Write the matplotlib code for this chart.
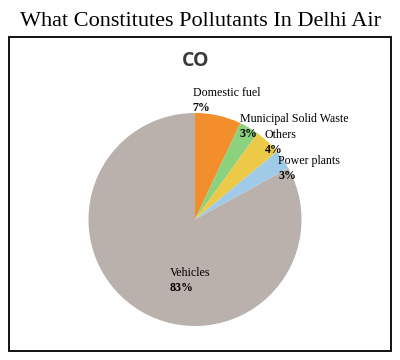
import matplotlib.pyplot as plt
from matplotlib.patches import Rectangle

# data
sources = ['Domestic fuel', 'Municipal Solid Waste', 'Others', 'Power plants', 'Vehicles']
shares = [7, 3, 4, 3, 83]
colors = ['#F28E2B', '#8CD17D', '#EDC948', '#A0CBE8', '#BAB0AC']

# label anchors (data units, pie radius = 1)
label_pos = [(-0.02, 1.19), (0.42, 0.945), (0.655, 0.79), (0.78, 0.55), (-0.235, -0.50)]

W, H = 400, 360
fig = plt.figure(figsize=(W / 100, H / 100), dpi=100)

# outer frame
fig.patches.append(Rectangle((9 / W, 1 - 351 / H), 382 / W, 314 / H,
                             transform=fig.transFigure, fill=False,
                             edgecolor='black', linewidth=1.3))

fig.text(200 / W, 1 - 22 / H, 'What Constitutes Pollutants In Delhi Air',
         ha='center', va='center', fontsize=16, family='Liberation Serif',
         color='black')

cx, cy, r = 195, 219.5, 106.5
ax = fig.add_axes([(cx - r) / W, (H - cy - r) / H, 2 * r / W, 2 * r / H])
ax.pie(shares, colors=colors, startangle=90, counterclock=False,
       radius=1, wedgeprops=dict(linewidth=0))
ax.set_xlim(-1, 1)
ax.set_ylim(-1, 1)
ax.set_aspect('equal')
ax.axis('off')

fig.text(196 / W, 1 - 61 / H, 'CO', ha='center', va='center', fontsize=14,
         family='Open Sans', fontweight='bold', color='#3a3a3a')

for name, val, (lx, ly) in zip(sources, shares, label_pos):
    ax.annotate(name, xy=(lx, ly), ha='left', va='center', fontsize=8.6,
                family='Liberation Serif', color='black', annotation_clip=False)
    ax.annotate(f'{val}%', xy=(lx, ly), xytext=(0, -10.8), textcoords='offset points',
                ha='left', va='center', fontsize=8.6, fontweight='bold',
                family='Liberation Serif', color='black', annotation_clip=False)

fig.savefig('out.png', dpi=100)
